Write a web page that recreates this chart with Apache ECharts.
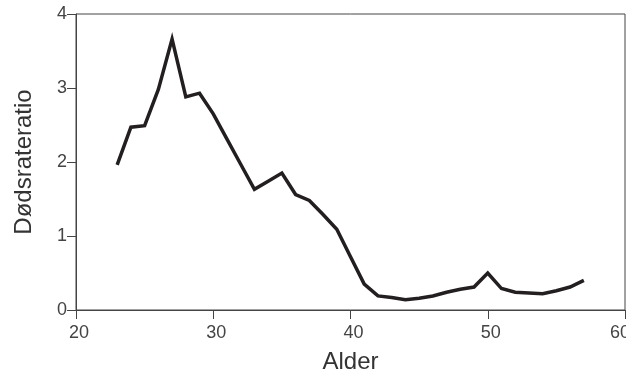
<!DOCTYPE html>
<html>
<head>
<meta charset="utf-8">
<script src="https://cdn.jsdelivr.net/npm/echarts@6/dist/echarts.min.js"></script>
<style>html,body{margin:0;padding:0;background:#fff;}#c{width:626px;height:372px;}</style>
</head>
<body>
<div id="c"></div>
<script>
const ages = [23,24,25,26,27,28,29,30,31,32,33,34,35,36,37,38,39,40,41,42,43,44,45,46,47,48,49,50,51,52,53,54,55,56,57];
const ratios = [1.96,2.47,2.49,2.98,3.66,2.88,2.93,2.65,2.31,1.97,1.63,1.74,1.85,1.56,1.48,1.29,1.09,0.72,0.35,0.19,0.17,0.14,0.16,0.19,0.24,0.28,0.31,0.50,0.29,0.24,0.23,0.22,0.26,0.31,0.40];
const xTicks = [20,30,40,50,60];
const yTicks = [0,1,2,3,4];
const xTitle = 'Alder';
const yTitle = 'Dødsrateratio';

const font = 'Liberation Sans, Arial, Helvetica, sans-serif';
const lbl = {fontFamily:font,fontSize:18,color:'#444'};
const chart = echarts.init(document.getElementById('c'), null, {renderer:'canvas'});
chart.setOption({
  animation:false,
  backgroundColor:'#fff',
  grid:{left:76,right:1,top:14,bottom:62,containLabel:false,outerBoundsMode:'none',
        show:true,borderColor:'#444',borderWidth:1,backgroundColor:'transparent'},
  xAxis:{
    type:'value',min:xTicks[0],max:xTicks[xTicks.length-1],interval:10,
    name:xTitle,nameLocation:'middle',nameGap:40,
    nameTextStyle:{fontFamily:font,fontSize:24,color:'#333'},
    axisLine:{show:true,onZero:false,lineStyle:{color:'#444',width:1}},
    axisTick:{show:true,inside:false,length:9,lineStyle:{color:'#444'}},
    axisLabel:{fontFamily:font,fontSize:18,color:'#444',margin:14,hideOverlap:false,showMinLabel:true,showMaxLabel:true,
      formatter:function(v){ return v === xTicks[xTicks.length-1] ? '{e|' + v + '}' : '{n|' + v + '}'; },
      rich:{n:Object.assign({padding:[0,0,0,6]},lbl), e:Object.assign({padding:[0,10,0,0]},lbl)}
    },
    splitLine:{show:false}
  },
  yAxis:{
    type:'value',min:yTicks[0],max:yTicks[yTicks.length-1],interval:1,
    name:yTitle,nameLocation:'middle',nameGap:40,
    nameTextStyle:{fontFamily:font,fontSize:24,color:'#333'},
    axisLine:{show:true,lineStyle:{color:'#444',width:1}},
    axisTick:{show:true,inside:false,length:9,lineStyle:{color:'#444'}},
    axisLabel:{fontFamily:font,fontSize:18,color:'#444',margin:9,showMinLabel:true,showMaxLabel:true},
    splitLine:{show:false}
  },
  series:[{
    type:'line',
    data:ages.map((a,i)=>[a,ratios[i]]),
    showSymbol:false,
    lineStyle:{color:'#231f20',width:3.5,join:'miter'},
    itemStyle:{color:'#231f20'}
  }]
});
</script>
</body>
</html>
